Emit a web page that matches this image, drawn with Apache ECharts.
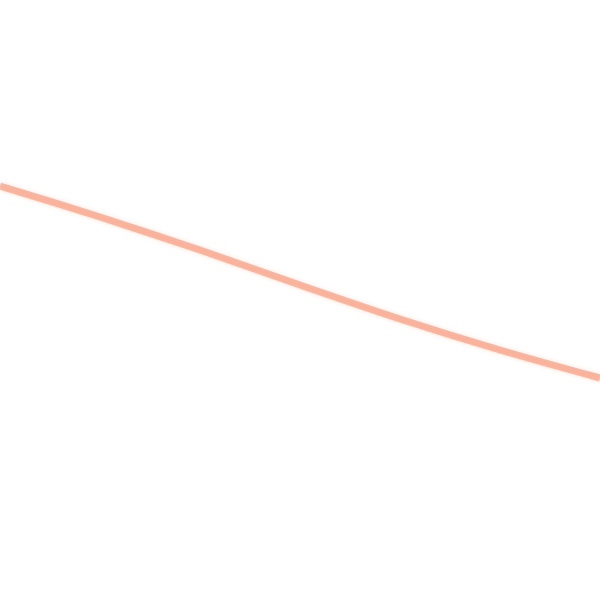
<!DOCTYPE html>
<html>
<head>
<meta charset="utf-8">
<style>
  html, body { margin: 0; padding: 0; background: #fff; }
  #chart { width: 600px; height: 600px; }
</style>
<script src="https://cdn.jsdelivr.net/npm/echarts@6/dist/echarts.min.js"></script>
</head>
<body>
<div id="chart"></div>
<script>
// x positions of the sampled points (category labels, hidden)
const xLabels = ['0', '100', '200', '300', '400', '500', '600']
// line height (top = 0, bottom = 600)
const lineValues = [186, 217, 250, 285, 319, 350, 378]

const myChart = echarts.init(document.querySelector('#chart'))

const option = {
  animation: false,
  grid: { left: 0, right: 0, top: 0, bottom: 0 },
  xAxis: {
    type: 'category',
    boundaryGap: false,
    data: xLabels,
    show: false
  },
  yAxis: {
    type: 'value',
    min: 0,
    max: 600,
    inverse: true,
    show: false
  },
  series: [
    {
      type: 'line',
      data: lineValues,
      smooth: 0.3,
      symbol: 'none',
      lineStyle: {
        width: 7,
        color: 'rgba(246, 145, 115, 0.6)',
        // 柔和一点的边缘
        shadowBlur: 4,
        shadowColor: 'rgba(250, 190, 160, 0.8)'
      }
    }
  ]
}

myChart.setOption(option)
</script>
</body>
</html>
